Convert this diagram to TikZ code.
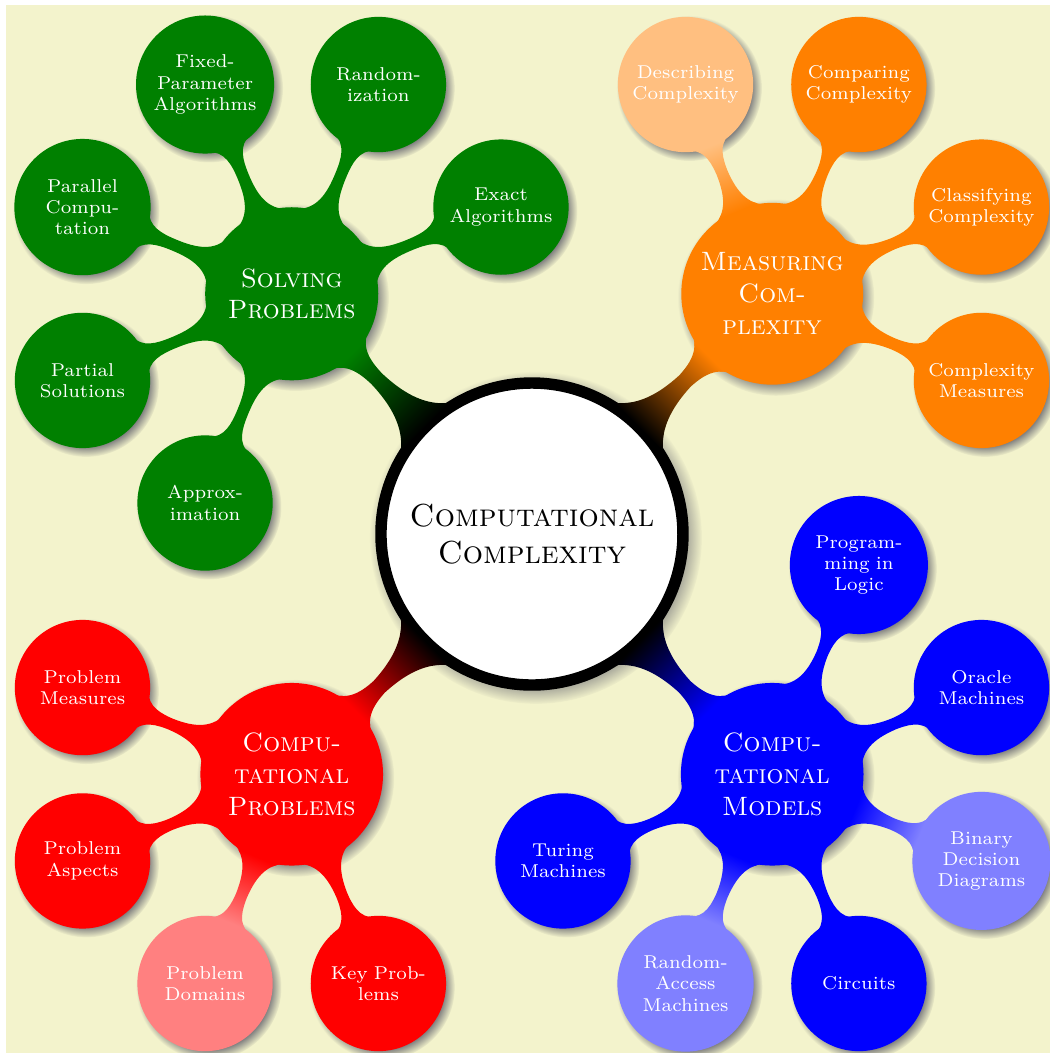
\documentclass[tikz,border=0pt]{standalone}
\usetikzlibrary{mindmap,trees,shadows}
\definecolor{bgyellow}{RGB}{243,243,204}
\begin{document}
\begin{tikzpicture}[mindmap,
  every node/.style={concept, circular drop shadow, execute at begin node=\hskip0pt},
  root concept/.append style={concept color=black, fill=white, line width=1ex, text=black, font=\large\scshape},
  text=white,
  compproblems/.style={concept color=red, faded/.style={concept color=red!50}},
  compmodels/.style={concept color=blue, faded/.style={concept color=blue!50}},
  measuring/.style={concept color=orange, faded/.style={concept color=orange!50}},
  solving/.style={concept color=green!50!black, faded/.style={concept color=green!50!black!50}},
  grow cyclic,
  level 1/.append style={level distance=4.5cm, sibling angle=90, font=\scshape},
  level 2/.append style={level distance=3cm, sibling angle=45, font=\scriptsize}]
\useasboundingbox (-7.046,-6.874) rectangle (6.861,7.073);
\fill[bgyellow] (-6.967,-6.874) rectangle (6.861,7.007);
\node [root concept] (root) at (0,0) {Computational Complexity}
  child [compproblems] { node (cp) {Computational Problems}
    child { node (pm) {Problem Measures} }
    child { node (pa) {Problem Aspects} }
    child [faded] { node (pd) {Problem Domains} }
    child { node (kp) {Key Problems} }
  }
  child [compmodels] { node (cm) {Computational Models}
    child { node (tm) {Turing Machines} }
    child [faded] { node (ram) {Random-Access Machines} }
    child { node (ci) {Circuits} }
    child [faded] { node (bdd) {Binary Decision Diagrams} }
    child { node (om) {Oracle Machines} }
    child { node (pl) {Programming in Logic} }
  }
  child [measuring] { node (mc) {Measuring Complexity}
    child { node (cme) {Complexity Measures} }
    child { node (clc) {Classifying Complexity} }
    child { node (coc) {Comparing Complexity} }
    child [faded] { node (dec) {Describing Complexity} }
  }
  child [solving] { node (sp) {Solving Problems}
    child { node (ea) {Exact Algorithms} }
    child { node (ra) {Randomization} }
    child { node (fp) {Fixed-Parameter Algorithms} }
    child { node (pc) {Parallel Computation} }
    child { node (ps) {Partial Solutions} }
    child { node (ap) {Approximation} }
  };
\end{tikzpicture}
\end{document}
